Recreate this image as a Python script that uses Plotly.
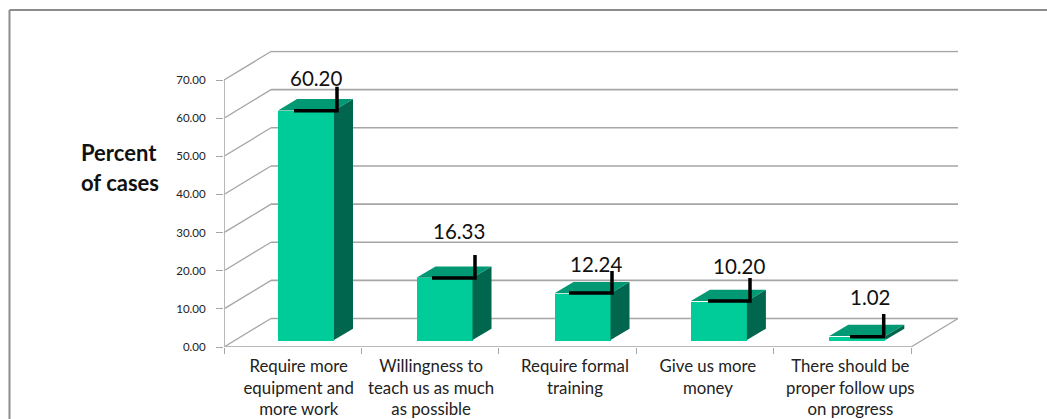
import plotly.graph_objects as go

W, H = 1047, 419

categories = ["Require more<br>equipment and<br>more work",
              "Willingness to<br>teach us as much<br>as possible",
              "Require formal<br>training",
              "Give us more<br>money",
              "There should be<br>proper follow ups<br>on progress"]
values = [60.20, 16.33, 12.24, 10.20, 1.02]
y_ticks = [0, 10, 20, 30, 40, 50, 60, 70]

# geometry of the pseudo-3D box (data units)
PX_X = 137.4          # px per category
PX_Y = 3.814          # px per value unit
DEPTH_X = 47 / PX_X
DEPTH_Y = 28.5 / PX_Y
BAR_W = 56 / PX_X
BAR_SHIFT_X = [13.3 / PX_X, 14.4 / PX_X, 15 / PX_X, 14 / PX_X, 15 / PX_X]
BAR_BASE = 7 / PX_Y
BAR_DX = 19 / PX_X
BAR_DY = 11.3 / PX_Y
LABEL_X_SHIFT = [23.5, 29, 28.5, 35, 28.5]
LABEL_Y_OFF = [10.3, 14.1, 9.5, 11, 12]
TICK_SHIFT = [6, 1, 7.5, 3, 8]
ELBOW_X = [337, 475, 612, 750, 883.7]
ELBOW_START = [294, 432, 569, 708, 850]
ELBOW_Y = [110.7, 278, 293, 301, 336.7]
ELBOW_TOP = [86.7, 255, 271, 278, 314]
X0_PX, Y0_PX = 224, 347

def px_x(p):
    return (p - X0_PX) / PX_X

def px_y(p):
    return (Y0_PX - p) / PX_Y

GRID = "#a6a6a6"
FRONT, TOP, SIDE = "#00CC99", "#009973", "#00664D"
FONT = "Lato"

centers = [i + 0.5 + BAR_SHIFT_X[i] for i in range(5)]

fig = go.Figure()
fig.add_trace(go.Bar(x=centers, y=values, base=[BAR_BASE] * 5, width=BAR_W,
                     marker=dict(color=FRONT, line=dict(width=0)),
                     showlegend=False, hoverinfo="skip"))

for c, v in zip(centers, values):
    l, r = c - BAR_W / 2, c + BAR_W / 2
    b, t = BAR_BASE, BAR_BASE + v
    fig.add_trace(go.Scatter(x=[r, r + BAR_DX, r + BAR_DX, r, r],
                             y=[b, b + BAR_DY, t + BAR_DY, t, b],
                             mode="lines", fill="toself", fillcolor=SIDE,
                             line=dict(width=0), showlegend=False, hoverinfo="skip"))
    fig.add_trace(go.Scatter(x=[l, r, r + BAR_DX, l + BAR_DX, l],
                             y=[t, t, t + BAR_DY, t + BAR_DY, t],
                             mode="lines", fill="toself", fillcolor=TOP,
                             line=dict(width=0), showlegend=False, hoverinfo="skip"))

for i in range(5):
    fig.add_trace(go.Scatter(x=[px_x(ELBOW_START[i]), px_x(ELBOW_X[i]), px_x(ELBOW_X[i])],
                             y=[px_y(ELBOW_Y[i]), px_y(ELBOW_Y[i]), px_y(ELBOW_TOP[i])],
                             mode="lines", line=dict(color="black", width=3.5),
                             showlegend=False, hoverinfo="skip"))

shapes = []
for t in y_ticks:
    shapes.append(dict(type="line", layer="below", xref="x", yref="y",
                       x0=0, y0=t, x1=DEPTH_X, y1=t + DEPTH_Y,
                       line=dict(color=GRID, width=1.3)))
    shapes.append(dict(type="line", layer="below", xref="x", yref="y",
                       x0=DEPTH_X, y0=t + DEPTH_Y, x1=5 + DEPTH_X, y1=t + DEPTH_Y,
                       line=dict(color=GRID, width=1.6)))
shapes.append(dict(type="line", layer="below", xref="x", yref="y",
                   x0=5, y0=0, x1=5 + DEPTH_X, y1=DEPTH_Y,
                   line=dict(color=GRID, width=1.3)))
shapes.append(dict(type="line", layer="below", xref="x", yref="y",
                   x0=0, y0=0, x1=0, y1=70, line=dict(color="#b8b8b8", width=2)))
shapes.append(dict(type="line", layer="below", xref="x", yref="y",
                   x0=0, y0=0, x1=5, y1=0, line=dict(color="#b8b8b8", width=2)))
# outer chart frame, running off the right and bottom edges (paper = whole figure here)
FRAME_X, FRAME_Y = 9.5 / W, 1 - 10 / H
shapes.append(dict(type="line", xref="paper", yref="paper",
                   x0=FRAME_X, y0=FRAME_Y, x1=1.01, y1=FRAME_Y,
                   line=dict(color="#8c8c8c", width=2)))
shapes.append(dict(type="line", xref="paper", yref="paper",
                   x0=FRAME_X, y0=FRAME_Y, x1=FRAME_X, y1=-0.01,
                   line=dict(color="#8c8c8c", width=2)))

annotations = []
for i, v in enumerate(values):
    annotations.append(dict(x=i + 0.5 + LABEL_X_SHIFT[i] / PX_X, y=v + LABEL_Y_OFF[i],
                            xref="x", yref="y", text=f"{v:.2f}", showarrow=False,
                            xanchor="center", yanchor="middle",
                            font=dict(family=FONT, size=20.5, color="#111111")))
for txt, py in (("Percent", 153), ("of cases", 182)):
    annotations.append(dict(x=82 / W, y=1 - py / H, xref="paper", yref="paper", text=f"<b>{txt}</b>",
                            showarrow=False, xanchor="left", yanchor="middle", xshift=-3,
                            font=dict(family=FONT, size=22, color="#111111")))

fig.update_layout(
    width=W, height=H, autosize=False, paper_bgcolor="white", plot_bgcolor="white",
    margin=dict(l=0, r=0, t=0, b=0), showlegend=False, bargap=0,
    shapes=shapes, annotations=annotations,
    xaxis=dict(domain=[X0_PX / W, (X0_PX + 5 * PX_X + 47) / W], range=[0, 5 + DEPTH_X],
               automargin=False,
               tickmode="array", tickvals=[i + 0.5 + TICK_SHIFT[i] / PX_X for i in range(5)],
               ticktext=categories, ticks="", ticklen=0, ticklabelstandoff=7,
               tickfont=dict(family=FONT, size=16.8, color="#222222"),
               showgrid=False, zeroline=False, showline=False,
               minor=dict(tickmode="array", tickvals=[0, 1, 2, 3, 4, 5], ticks="outside",
                          ticklen=6, tickcolor=GRID, tickwidth=1, showgrid=False)),
    yaxis=dict(domain=[(H - Y0_PX) / H, (H - Y0_PX + 296.5) / H], range=[0, 296.5 / PX_Y],
               automargin=False,
               tickmode="array", tickvals=y_ticks, ticktext=[f"{t:.2f}" for t in y_ticks],
               ticks="outside", ticklen=7, tickcolor=GRID, tickwidth=1, ticklabelstandoff=8,
               tickfont=dict(family=FONT, size=11.5, color="#222222"),
               showgrid=False, zeroline=False, showline=False),
)

fig.write_html("out.html", config=dict(displayModeBar=False),
               post_script="document.body.style.margin='0';")
